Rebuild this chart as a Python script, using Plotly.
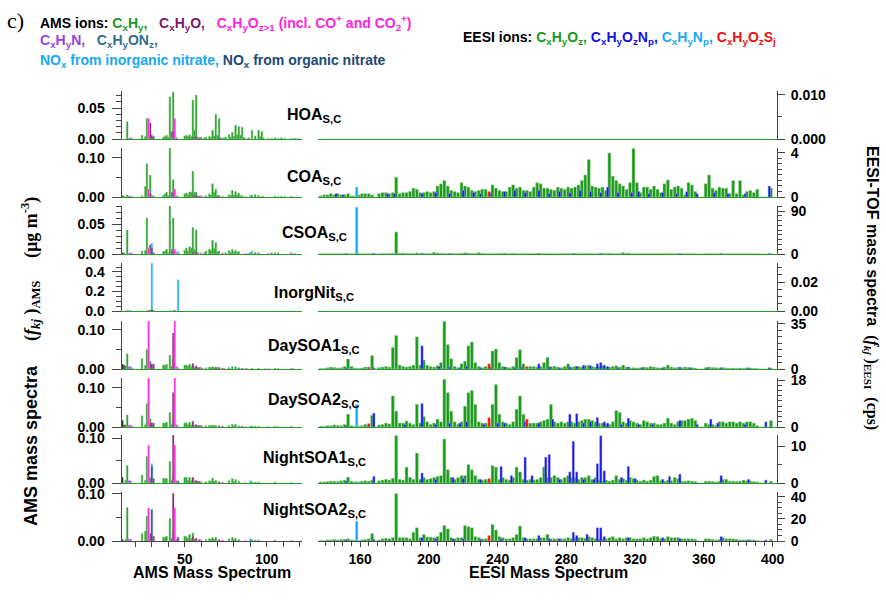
import plotly.graph_objects as go

# ======================= DATA =======================
FACTORS = ["HOA", "COA", "CSOA", "InorgNit", "DaySOA1", "DaySOA2", "NightSOA1", "NightSOA2"]
AMS_TICKS = [50, 100]
EESI_TICKS = [160, 200, 240, 280, 320, 360, 400]
EESI_ODD_MZ = list(range(137, 400, 2))   # m/z of CxHyOz bars (132 values per factor)

# ---- AMS spectra: (m/z, value in ug m-3) per ion family ----
HOA_AMS_CXHY = [(15,.028),(24,.006),(26,.004),(27,.033),(29,.012),(37,.003),(38,.004),(39,.006),(40,.003),(41,.068),(42,.012),(43,.076),
                (50,.005),(51,.006),(52,.004),(53,.007),(54,.004),(55,.063),(56,.014),(57,.071),(58,.003),(62,.002),(63,.003),(65,.004),
                (66,.003),(67,.014),(68,.005),(69,.040),(70,.006),(71,.033),(72,.002),(74,.002),(75,.003),(77,.007),(78,.003),(79,.011),
                (80,.004),(81,.022),(82,.007),(83,.020),(84,.006),(85,.019),(86,.003),(89,.002),(91,.014),(93,.005),(95,.014),(96,.004),
                (97,.012),(98,.002),(103,.001),(105,.002),(107,.001),(109,.002),(111,.001),(115,.001),(117,.001),(119,.001)]
HOA_AMS_CXHYO = [(29,.026),(30,.006),(31,.004),(43,.012),(45,.002),(55,.003),(57,.004),(59,.002),(60,.003),(71,.002)]
HOA_AMS_CXHYOZ = [(28,.033),(44,.033),(45,.001),(60,.001),(73,.001),(87,.001),(101,.001),(117,.001)]
HOA_AMS_CXHYN = [(16,.001),(17,.002),(18,.001),(42,.002),(58,.001)]

COA_AMS_OTHER = [(12,.003)]
COA_AMS_CXHY = [(13,.002),(15,.005),(24,.003),(26,.027),(27,.085),(29,.056),(37,.004),(38,.008),(39,.012),(40,.003),(41,.125),(42,.012),
                (43,.045),(50,.008),(51,.010),(52,.006),(53,.013),(54,.012),(55,.066),(56,.012),(57,.013),(58,.002),(63,.003),(65,.008),
                (66,.005),(67,.034),(68,.012),(69,.020),(70,.004),(71,.004),(77,.006),(78,.004),(79,.017),(80,.005),(81,.014),(82,.006),
                (83,.010),(84,.003),(85,.003),(91,.005),(93,.006),(95,.004),(97,.002),(105,.002),(107,.001),(109,.002),(111,.001),(115,.001)]
COA_AMS_CXHYO = [(29,.010),(30,.003),(31,.002),(43,.012),(45,.002),(55,.004),(57,.006),(58,.002),(59,.002),(69,.002),(71,.002)]
COA_AMS_CXHYOZ = [(28,.020),(44,.020),(45,.003),(46,.002),(60,.003),(61,.001),(73,.002),(87,.001),(98,.001),(115,.001)]
COA_AMS_CXHYN = [(16,.002),(17,.002),(18,.001)]
COA_AMS_NO_INORG = [(30,.001),(46,.002),(90,.004)]

CSOA_AMS_OTHER = [(12,.002)]
CSOA_AMS_CXHY = [(13,.002),(15,.040),(24,.005),(26,.006),(27,.060),(29,.012),(37,.004),(38,.005),(39,.008),(40,.002),(41,.080),(42,.008),
                 (43,.060),(50,.006),(51,.010),(52,.005),(53,.012),(54,.010),(55,.044),(56,.008),(57,.040),(58,.003),(62,.002),(63,.005),
                 (65,.008),(66,.006),(67,.023),(68,.009),(69,.019),(70,.004),(71,.005),(75,.002),(77,.006),(78,.003),(79,.008),(80,.003),
                 (81,.006),(82,.003),(83,.004),(89,.001),(91,.004),(93,.003),(95,.002),(103,.002),(105,.002),(107,.002),(115,.002),(117,.001)]
CSOA_AMS_CXHYO = [(29,.015),(31,.002),(43,.006),(45,.002),(55,.003),(57,.003)]
CSOA_AMS_CXHYOZ = [(28,.010),(44,.008),(45,.002),(60,.002),(73,.002),(87,.001),(101,.001),(115,.001)]
CSOA_AMS_CXHYN = [(16,.001),(17,.002),(18,.001)]
CSOA_AMS_NO_INORG = [(30,.018),(46,.004),(90,.003)]
CSOA_AMS_NO_ORG = [(30,.010)]

INORG_AMS_CXHY = [(15,.002),(27,.002),(41,.002),(43,.002)]
INORG_AMS_CXHYO = [(29,.010),(31,.005)]
INORG_AMS_CXHYOZ = [(28,.008),(44,.010)]
INORG_AMS_CXHYN = [(16,.002),(17,.003)]
INORG_AMS_NO_INORG = [(30,.490),(46,.320)]
INORG_AMS_NO_ORG = [(30,.015)]

DAY1_AMS_OTHER = [(12,.012),(13,.010)]
DAY1_AMS_CXHY = [(14,.008),(15,.039),(24,.027),(26,.009),(27,.050),(29,.020),(37,.010),(38,.010),(39,.012),(41,.035),(42,.006),(43,.025),
                 (50,.010),(51,.010),(52,.008),(53,.012),(54,.006),(55,.010),(56,.004),(57,.006),(63,.003),(65,.005),(66,.004),(67,.006),
                 (68,.004),(69,.005),(70,.003),(77,.004),(79,.006),(81,.006),(83,.003),(91,.002),(95,.002),(105,.002),(107,.001),(115,.001)]
DAY1_AMS_CXHYO = [(29,.013),(30,.013),(31,.012),(43,.092),(45,.004),(55,.014),(57,.008),(58,.003),(59,.004),(60,.003),(69,.003),
                  (71,.004),(73,.002),(83,.002),(85,.002)]
DAY1_AMS_CXHYOZ = [(28,.123),(44,.123),(45,.006),(46,.002),(60,.003),(61,.002),(73,.002),(74,.002),(87,.001),(88,.001),(99,.001),
                   (101,.001),(115,.001),(116,.001)]
DAY1_AMS_CXHYN = [(16,.006),(17,.006),(18,.002)]
DAY1_AMS_NO_INORG = [(46,.002)]

DAY2_AMS_OTHER = [(12,.017),(13,.005)]
DAY2_AMS_CXHY = [(14,.006),(15,.031),(24,.029),(26,.006),(27,.060),(29,.021),(37,.010),(38,.010),(39,.012),(41,.037),(42,.006),(43,.020),
                 (50,.010),(51,.011),(52,.006),(53,.012),(54,.005),(55,.010),(56,.004),(57,.005),(63,.003),(65,.004),(66,.004),(67,.005),
                 (68,.003),(69,.004),(77,.004),(79,.007),(80,.003),(81,.007),(83,.003),(91,.003),(93,.002),(95,.002),(105,.002),(107,.001),(115,.001)]
DAY2_AMS_CXHYO = [(29,.011),(30,.011),(31,.010),(43,.088),(45,.004),(55,.015),(57,.006),(58,.003),(59,.004),(60,.003),(71,.003),(73,.002),(85,.002)]
DAY2_AMS_CXHYOZ = [(28,.126),(44,.126),(45,.006),(46,.002),(60,.003),(61,.002),(73,.002),(87,.001),(101,.001),(115,.001)]
DAY2_AMS_CXHYN = [(16,.005),(17,.005),(18,.002)]
DAY2_AMS_NO_INORG = [(46,.002),(90,.002)]

NIGHT1_AMS_OTHER = [(12,.013)]
NIGHT1_AMS_CXHY = [(14,.006),(15,.039),(24,.018),(26,.006),(27,.059),(29,.012),(37,.010),(38,.010),(39,.010),(41,.048),(42,.006),(43,.020),
                   (50,.012),(51,.013),(52,.006),(53,.013),(54,.005),(55,.012),(56,.004),(57,.006),(63,.003),(65,.005),(66,.004),(67,.011),
                   (68,.004),(69,.006),(77,.005),(79,.010),(80,.003),(81,.008),(83,.004),(91,.003),(93,.002),(95,.002),(105,.002),(115,.001)]
NIGHT1_AMS_CXHYO = [(29,.010),(31,.010),(43,.107),(45,.004),(55,.012),(57,.005),(58,.003),(59,.004),(71,.003)]
NIGHT1_AMS_CXHYOZ = [(28,.084),(44,.084),(45,.005),(60,.003),(73,.002),(87,.001)]
NIGHT1_AMS_CXHYN = [(16,.005),(17,.005)]
NIGHT1_AMS_NO_INORG = [(30,.043),(46,.005),(90,.005)]
NIGHT1_AMS_NO_ORG = [(30,.037),(46,.004)]

NIGHT2_AMS_OTHER = [(12,.003)]
NIGHT2_AMS_CXHY = [(14,.003),(15,.071),(24,.016),(26,.021),(27,.053),(29,.010),(37,.008),(38,.008),(39,.010),(41,.048),(42,.006),(43,.020),
                   (50,.010),(51,.009),(52,.006),(53,.014),(54,.005),(55,.017),(56,.004),(57,.006),(63,.003),(65,.005),(66,.004),(67,.007),
                   (68,.004),(69,.008),(77,.005),(79,.008),(80,.003),(81,.006),(83,.003),(91,.003),(93,.002),(95,.002),(105,.002),(115,.001)]
NIGHT2_AMS_CXHYO = [(29,.016),(31,.010),(43,.101),(45,.004),(55,.010),(57,.005),(59,.003),(71,.003)]
NIGHT2_AMS_CXHYOZ = [(28,.070),(44,.070),(45,.004),(60,.002),(73,.002),(87,.001)]
NIGHT2_AMS_CXHYN = [(16,.004),(17,.004)]
NIGHT2_AMS_NO_INORG = [(90,.005)]
NIGHT2_AMS_NO_ORG = [(30,.067),(46,.008)]

# ---- EESI spectra (cps): CxHyOz at odd m/z 137..399 ----
COA_EESI_CXHYOZ = [0.1, 0.2,
    0.2, 0.3, 0.2, 0.3, 0.2, 0.2, 0.3, 0.1, 0.1, 0.2,
    0.3, 0.3, 0.3, 0.2, 0.0, 0.3, 0.4, 0.4, 0.3, 0.4,
    1.8, 0.3, 0.4, 0.4, 0.5, 0.8, 0.7, 0.4, 0.4, 0.5,
    0.4, 0.5, 1.0, 1.2, 1.5, 1.0, 0.6, 0.5, 0.4, 1.3,
    1.0, 0.9, 0.6, 0.5, 0.6, 0.7, 0.7, 0.3, 1.1, 0.8,
    0.6, 0.5, 0.5, 0.9, 1.1, 0.8, 0.9, 0.6, 0.6, 0.5,
    0.9, 1.3, 1.2, 0.8, 0.8, 0.7, 0.6, 0.9, 0.8, 0.7,
    0.9, 0.8, 0.9, 1.1, 1.5, 2.0, 3.4, 1.0, 0.9, 0.8,
    0.9, 0.6, 4.0, 1.9, 1.5, 1.2, 1.0, 0.7, 1.3, 4.4,
    1.3, 0.4, 0.9, 0.9, 0.7, 1.0, 0.7, 0.4, 1.2, 1.55,
    0.7, 0.9, 1.0, 0.8, 0.2, 1.3, 1.1, 0.5, 0.0, 0.0,
    1.2, 2.0, 0.8, 0.6, 0.9, 0.8, 0.8, 0.3, 1.5, 0.3,
    1.5, 0.2, 0.5, 0.6, 0.4, 0.7, 0.0, 0.0, 0.0, 0.8]
COA_EESI_CXHYOZNP = [(146,.3),(150,.2),(176,.3),(180,.3),(196,.3),(204,.4),(212,.3),(220,.6),(226,.4),(230,.3),(236,.4),(244,.5),
                     (250,.6),(256,.4),(264,.6),(270,.3),(276,.5),(282,.4),(288,.6),(294,.5),(300,.4),(304,.9),(310,.4),(318,.4),
                     (322,.5),(328,.3),(336,.4),(344,.3),(350,.5),(356,.3),(366,.4),(374,.3),(384,.3),(398,1.0)]
COA_EESI_CXHYNP = [(158,.9)]
COA_EESI_CXHYOZSJ = [(235,.5)]

CSOA_EESI_CXHYOZ = [0.3, 0.3,
    0.5, 0.4, 0.5, 0.6, 0.5, 0.8, 0.6, 0.4, 0.3, 0.5,
    0.6, 0.5, 0.7, 0.8, 0.0, 0.6, 0.8, 1.0, 1.2, 1.5,
    46, 1.5, 2.0, 1.2, 1.5, 1.0, 2.5, 1.0, 0.8, 1.0,
    1.2, 3.5, 2.0, 1.5, 1.0, 1.2, 1.0, 0.8, 1.0, 1.5,
    2.5, 1.5, 1.0, 1.2, 3.0, 1.5, 1.0, 0.8, 1.0, 1.0,
    1.2, 1.0, 0.8, 1.0, 1.5, 1.0, 0.8, 1.2, 1.0, 0.8,
    1.0, 1.2, 1.0, 0.8, 1.0, 0.8, 0.6, 1.0, 0.8, 1.2,
    1.0, 0.8, 1.0, 1.2, 0.8, 1.0, 1.2, 0.8, 0.6, 0.8,
    0.8, 1.0, 1.5, 0.8, 1.0, 0.8, 3.0, 1.0, 0.8, 1.0,
    0.8, 0.6, 0.8, 1.0, 0.8, 0.6, 0.8, 0.6, 1.0, 1.2,
    0.8, 0.6, 0.8, 0.6, 0.5, 0.8, 0.6, 0.5, 0.0, 0.0,
    0.6, 0.8, 0.5, 0.6, 0.5, 0.6, 0.5, 0.4, 0.6, 0.5,
    0.6, 0.4, 0.5, 0.4, 0.4, 0.5, 0.0, 0.0, 0.0, 0.4]
CSOA_EESI_CXHYOZNP = [(152,1.0),(168,1.5),(196,1.5),(212,1.0),(222,1.2),(244,1.0),(264,1.2),(284,1.0),(300,1.5),(316,1.0),
                      (346,1.0),(370,0.8),(398,0.8)]
CSOA_EESI_CXHYNP = [(158,98)]

DAY1_EESI_CXHYOZ = [0.5, 0.5,
    1.0, 1.5, 1.2, 0.8, 1.0, 2.0, 7.8, 2.0, 0.8, 0.5,
    0.8, 1.5, 1.0, 10.4, 0.0, 1.2, 1.5, 2.0, 1.5, 16.8,
    26, 3.0, 2.0, 1.5, 2.0, 3.0, 25, 3.0, 7.0, 3.0,
    2.0, 1.5, 2.5, 5.0, 37, 19, 8.0, 2.0, 1.0, 4.0,
    6.0, 18, 21, 5.0, 2.0, 1.0, 2.0, 1.0, 14, 15.5,
    5.0, 2.0, 1.5, 1.0, 2.0, 9.0, 15, 4.0, 1.5, 2.0,
    2.0, 1.5, 2.0, 5.0, 9.0, 2.0, 2.0, 1.5, 1.0, 2.0,
    4.0, 1.5, 2.0, 2.0, 1.5, 2.5, 3.0, 2.0, 1.5, 2.0,
    2.5, 1.5, 1.5, 2.0, 2.5, 1.5, 3.0, 1.5, 1.0, 1.0,
    0.8, 1.0, 1.5, 1.2, 2.0, 1.5, 1.0, 0.8, 1.5, 3.0,
    1.5, 1.0, 1.2, 1.0, 1.5, 1.2, 1.0, 0.8, 0.0, 0.0,
    1.0, 1.5, 1.2, 1.0, 0.8, 1.0, 0.8, 0.6, 0.8, 0.6,
    0.8, 0.6, 1.0, 0.8, 0.6, 0.5, 0.0, 0.0, 0.0, 0.6]
DAY1_EESI_CXHYOZNP = [(144,.5),(152,.8),(168,1.0),(196,18),(206,2.0),(212,1.5),(218,1.0),(222,2.0),(230,1.0),(236,1.5),(244,1.5),
                      (250,1.2),(254,1.5),(264,4.0),(270,1.5),(276,1.0),(282,1.5),(286,2.0),(290,3.0),(294,2.5),(298,4.0),(300,5.0),
                      (302,3.0),(304,2.0),(310,1.0),(316,1.5),(324,1.0),(336,1.0),(346,1.5),(352,1.0),(362,1.0),(370,1.0),(386,.8),(398,1.0)]
DAY1_EESI_CXHYNP = [(158,.8)]
DAY1_EESI_CXHYOZSJ = [(165,1.5),(235,4.0),(257,2.0)]

DAY2_EESI_CXHYOZ = [0.3, 0.3,
    0.5, 0.5, 0.8, 0.6, 0.5, 1.0, 4.9, 0.5, 0.3, 0.3,
    0.5, 1.0, 0.8, 4.5, 0.0, 0.8, 1.0, 1.5, 1.2, 11.9,
    6.1, 1.5, 1.5, 2.3, 1.5, 1.0, 8.7, 1.5, 4.0, 2.0,
    1.0, 1.5, 3.0, 2.0, 18.3, 13.2, 6.1, 2.0, 1.0, 2.0,
    8.0, 13.2, 14.0, 8.7, 2.0, 1.5, 1.5, 1.0, 8.7, 16.3,
    4.9, 2.0, 1.5, 1.0, 2.0, 6.8, 11.9, 4.9, 1.0, 1.5,
    1.5, 1.5, 2.0, 2.5, 3.0, 8.7, 2.0, 1.5, 2.0, 1.5,
    2.0, 2.0, 1.5, 2.0, 2.5, 3.0, 3.0, 2.5, 2.0, 1.5,
    1.5, 1.2, 1.0, 2.0, 6.3, 5.6, 2.0, 1.5, 2.5, 2.0,
    1.5, 1.0, 2.5, 2.0, 1.5, 1.5, 1.0, 1.0, 1.5, 3.4,
    1.5, 1.0, 2.0, 2.5, 2.5, 3.0, 3.4, 2.5, 0.0, 0.0,
    1.5, 1.0, 1.0, 0.5, 2.0, 2.0, 1.5, 2.0, 2.0, 1.5,
    2.0, 1.5, 2.0, 2.0, 1.5, 0.5, 0.0, 0.0, 0.0, 2.5]
DAY2_EESI_CXHYOZNP = [(152,.5),(168,5.3),(186,1.0),(196,9.0),(204,1.0),(212,1.5),(218,1.5),(222,2.0),(232,1.0),(240,1.5),(244,1.5),
                      (256,2.0),(264,1.5),(272,3.0),(282,4.9),(286,5.1),(290,1.5),(294,2.0),(298,3.6),(302,2.0),(304,1.5),(312,1.0),
                      (316,3.4),(322,1.0),(330,1.0),(346,2.5),(356,1.0),(364,3.0),(368,1.5),(384,1.0),(396,2.0)]
DAY2_EESI_CXHYNP = [(158,8.7)]
DAY2_EESI_CXHYOZSJ = [(165,1.3),(235,3.6),(257,3.0)]

NIGHT1_EESI_CXHYOZ = [0.3, 0.3,
    0.4, 0.5, 0.5, 0.4, 0.6, 0.8, 1.6, 0.5, 0.3, 0.3,
    0.5, 0.6, 0.5, 0.8, 0.0, 0.6, 0.8, 1.0, 0.8, 1.3,
    12.8, 1.0, 0.8, 4.3, 1.5, 1.0, 8.1, 1.0, 1.5, 1.0,
    1.2, 1.5, 1.8, 2.0, 11.9, 3.6, 1.5, 1.0, 1.5, 2.0,
    2.0, 5.0, 3.6, 2.0, 1.0, 0.8, 1.0, 0.5, 4.7, 4.3,
    1.0, 1.5, 1.0, 0.8, 1.5, 4.3, 3.0, 1.0, 0.8, 1.0,
    0.8, 1.0, 1.5, 4.3, 1.5, 1.5, 2.0, 1.5, 1.0, 1.5,
    2.0, 1.5, 1.5, 1.0, 1.5, 1.5, 2.0, 1.0, 1.5, 0.8,
    0.5, 0.8, 0.5, 0.8, 2.0, 1.0, 1.2, 0.8, 1.5, 1.2,
    0.8, 0.5, 0.8, 0.5, 0.8, 1.8, 2.0, 0.6, 0.5, 0.8,
    0.6, 1.5, 1.2, 0.5, 0.5, 0.6, 0.5, 0.4, 0.0, 0.0,
    0.5, 0.5, 0.4, 0.3, 0.5, 1.0, 1.0, 0.5, 0.5, 0.4,
    0.5, 0.8, 0.6, 0.5, 0.4, 0.3, 0.0, 0.0, 0.0, 0.5]
NIGHT1_EESI_CXHYOZNP = [(152,.5),(168,1.8),(196,2.7),(204,1.0),(214,1.5),(220,1.2),(230,1.0),(242,4.5),(248,2.0),(256,7.0),(260,2.0),
                        (268,7.0),(270,7.7),(276,1.0),(282,3.0),(284,11.3),(286,3.0),(290,1.0),(296,1.0),(298,5.2),(300,12.8),(302,3.3),
                        (312,1.5),(316,4.5),(320,1.2),(336,1.0),(340,1.8),(346,2.4),(370,2.0),(386,1.0),(396,.8)]
NIGHT1_EESI_CXHYNP = [(158,.4)]
NIGHT1_EESI_CXHYOZSJ = [(235,1.2)]

NIGHT2_EESI_CXHYOZ = [0.5, 0.5,
    1.0, 1.0, 1.5, 1.0, 1.5, 1.5, 2.0, 1.0, 0.8, 0.5,
    1.0, 1.5, 2.0, 6.7, 0.0, 1.0, 2.0, 2.5, 2.0, 3.0,
    43, 3.0, 3.0, 3.0, 2.0, 8.0, 12, 3.0, 6.0, 3.5,
    3.5, 3.0, 4.0, 8.0, 14, 11, 3.0, 2.0, 3.0, 3.0,
    14, 13, 12, 4.0, 3.0, 2.0, 2.0, 2.0, 15, 10,
    4.0, 3.0, 2.0, 2.0, 3.0, 6.0, 13.6, 3.0, 2.0, 2.0,
    2.0, 2.0, 3.0, 3.0, 6.0, 2.0, 2.0, 2.0, 2.0, 2.0,
    3.0, 2.0, 3.0, 3.0, 3.0, 2.5, 4.0, 3.0, 2.0, 2.0,
    2.0, 2.0, 3.0, 4.0, 2.0, 3.0, 2.0, 3.0, 3.0, 2.0,
    2.0, 2.0, 3.0, 2.0, 3.0, 4.3, 4.0, 2.0, 2.0, 4.0,
    3.0, 3.0, 3.0, 2.0, 2.0, 2.0, 2.0, 1.5, 0.0, 0.0,
    2.0, 2.0, 1.5, 1.0, 1.5, 3.0, 2.0, 2.0, 2.0, 1.5,
    1.0, 1.0, 1.0, 1.0, 1.0, 0.5, 0.0, 0.0, 0.0, 1.5]
NIGHT2_EESI_CXHYOZNP = [(152,1.0),(168,1.5),(196,3.0),(204,2.0),(214,2.0),(220,2.0),(230,1.5),(242,2.0),(256,3.0),(264,5.0),(270,2.0),
                        (276,2.0),(284,8.0),(286,5.0),(292,6.0),(298,12),(300,12),(302,4.0),(316,3.0),(336,3.0),(346,2.0),(370,4.0),
                        (386,1.0),(396,1.0)]
NIGHT2_EESI_CXHYNP = [(158,18)]
NIGHT2_EESI_CXHYOZSJ = [(235,5.0)]

# ======================= STYLE / LAYOUT =======================
W, H = 886, 605
SANS = "Liberation Sans, Arial, sans-serif"
SERIF = "Liberation Serif, Times New Roman, serif"

C_CXHY = "#1a991a"; C_CXHYO = "#7a1a6a"; C_CXHYOZ = "#ff22dd"; C_CXHYN = "#9a40e0"
C_CXHYONZ = "#2f6f8f"; C_NOI = "#18a8f2"; C_NOO = "#1b4a78"; C_OTHER = "#222222"
C_EG = "#1a991a"; C_EB = "#1212e6"; C_EC = "#18a8f2"; C_ER = "#ee1111"

AMS = {
    "HOA": [(HOA_AMS_CXHY, C_CXHY), (HOA_AMS_CXHYO, C_CXHYO), (HOA_AMS_CXHYOZ, C_CXHYOZ), (HOA_AMS_CXHYN, C_CXHYN)],
    "COA": [(COA_AMS_CXHY, C_CXHY), (COA_AMS_CXHYO, C_CXHYO), (COA_AMS_CXHYOZ, C_CXHYOZ), (COA_AMS_CXHYN, C_CXHYN),
            (COA_AMS_NO_INORG, C_NOI), (COA_AMS_OTHER, C_OTHER)],
    "CSOA": [(CSOA_AMS_CXHY, C_CXHY), (CSOA_AMS_CXHYO, C_CXHYO), (CSOA_AMS_CXHYOZ, C_CXHYOZ), (CSOA_AMS_CXHYN, C_CXHYN),
             (CSOA_AMS_NO_INORG, C_NOI), (CSOA_AMS_NO_ORG, C_NOO), (CSOA_AMS_OTHER, C_OTHER)],
    "InorgNit": [(INORG_AMS_CXHY, C_CXHY), (INORG_AMS_NO_INORG, C_NOI), (INORG_AMS_CXHYO, C_CXHYO), (INORG_AMS_CXHYOZ, C_CXHYOZ),
                 (INORG_AMS_CXHYN, C_CXHYN), (INORG_AMS_NO_ORG, C_NOO)],
    "DaySOA1": [(DAY1_AMS_CXHY, C_CXHY), (DAY1_AMS_CXHYO, C_CXHYO), (DAY1_AMS_CXHYOZ, C_CXHYOZ), (DAY1_AMS_CXHYN, C_CXHYN),
                (DAY1_AMS_NO_INORG, C_NOI), (DAY1_AMS_OTHER, C_OTHER)],
    "DaySOA2": [(DAY2_AMS_CXHY, C_CXHY), (DAY2_AMS_CXHYO, C_CXHYO), (DAY2_AMS_CXHYOZ, C_CXHYOZ), (DAY2_AMS_CXHYN, C_CXHYN),
                (DAY2_AMS_NO_INORG, C_NOI), (DAY2_AMS_OTHER, C_OTHER)],
    "NightSOA1": [(NIGHT1_AMS_CXHY, C_CXHY), (NIGHT1_AMS_CXHYO, C_CXHYO), (NIGHT1_AMS_CXHYOZ, C_CXHYOZ), (NIGHT1_AMS_CXHYN, C_CXHYN),
                  (NIGHT1_AMS_NO_INORG, C_NOI), (NIGHT1_AMS_NO_ORG, C_NOO), (NIGHT1_AMS_OTHER, C_OTHER)],
    "NightSOA2": [(NIGHT2_AMS_CXHY, C_CXHY), (NIGHT2_AMS_CXHYO, C_CXHYO), (NIGHT2_AMS_CXHYOZ, C_CXHYOZ), (NIGHT2_AMS_CXHYN, C_CXHYN),
                  (NIGHT2_AMS_NO_INORG, C_NOI), (NIGHT2_AMS_NO_ORG, C_NOO), (NIGHT2_AMS_OTHER, C_OTHER)],
}
EESI = {
    "COA": (COA_EESI_CXHYOZ, COA_EESI_CXHYOZNP, COA_EESI_CXHYNP, COA_EESI_CXHYOZSJ),
    "CSOA": (CSOA_EESI_CXHYOZ, CSOA_EESI_CXHYOZNP, CSOA_EESI_CXHYNP, []),
    "DaySOA1": (DAY1_EESI_CXHYOZ, DAY1_EESI_CXHYOZNP, DAY1_EESI_CXHYNP, DAY1_EESI_CXHYOZSJ),
    "DaySOA2": (DAY2_EESI_CXHYOZ, DAY2_EESI_CXHYOZNP, DAY2_EESI_CXHYNP, DAY2_EESI_CXHYOZSJ),
    "NightSOA1": (NIGHT1_EESI_CXHYOZ, NIGHT1_EESI_CXHYOZNP, NIGHT1_EESI_CXHYNP, NIGHT1_EESI_CXHYOZSJ),
    "NightSOA2": (NIGHT2_EESI_CXHYOZ, NIGHT2_EESI_CXHYOZNP, NIGHT2_EESI_CXHYNP, NIGHT2_EESI_CXHYOZSJ),
}

# panel geometry: top px, zero px, left max, right max, left dtick, left minor, left fmt, right dtick, right minor, right fmt, label y
GEO = [
    (91, 139, 0.0775, 0.0109, 0.05, 0.01, ".2f", 0.01, 0.005, ".3f", 115),
    (148, 197, 0.1256, 4.45, 0.10, 0.05, ".2f", 4, 0.5, "d", 177),
    (206, 254, 0.080, 100.5, 0.05, 0.01, ".2f", 90, 10, "d", 233),
    (263, 311, 0.492, 0.0331, 0.2, 0.05, ".1f", 0.02, 0.005, ".2f", 293),
    (321, 369, 0.123, 37.3, 0.10, 0.05, ".2f", 35, 5, "d", 346),
    (378, 427, 0.1256, 18.8, 0.10, 0.05, ".2f", 18, 2, "d", 400),
    (435, 483, 0.1067, 13.0, 0.10, 0.05, ".2f", 10, 5, "d", 458),
    (492, 541, 0.104, 44.5, 0.10, 0.05, ".2f", 20, 5, "d", 510),
]
AMS_DOM = [121.5 / W, 302 / W]
EESI_DOM = [318 / W, 777 / W]
AMS_RANGE = [11.5, 121.5]
EESI_RANGE = [135.5, 402.5]
AX = "#444444"
BASE = "#2a9a2a"
TF = dict(family=SANS, size=14, color="black", weight="bold")


def akey(p, n):
    return p if n == 1 else f"{p}{n}"


def lighten(hexc, f=0.45):
    h = hexc.lstrip("#")
    r, g, b = int(h[0:2], 16), int(h[2:4], 16), int(h[4:6], 16)
    r, g, b = [int(c + (255 - c) * f) for c in (r, g, b)]
    return f"rgb({r},{g},{b})"


fig = go.Figure()
layout = dict(width=W, height=H, autosize=False,
              margin=dict(l=0, r=0, t=0, b=0, autoexpand=False),
              paper_bgcolor="white", plot_bgcolor="rgba(0,0,0,0)",
              barmode="overlay", showlegend=False,
              font=dict(family=SANS, size=14, color="black"))

annotations = []
for i, name in enumerate(FACTORS):
    top, zero, lmax, rmax, ldt, lmin, lfmt, rdt, rmin, rfmt, laby = GEO[i]
    ia, ie = 2 * i + 1, 2 * i + 2
    xa, ya, xe, ye = akey("x", ia), akey("y", ia), akey("x", ie), akey("y", ie)
    ydom = [1 - zero / H, 1 - top / H]
    bottom = (i == len(FACTORS) - 1)

    # AMS bars
    for pairs, col in AMS[name]:
        if not pairs:
            continue
        fig.add_trace(go.Bar(x=[p[0] for p in pairs], y=[p[1] for p in pairs], width=1.0,
                             marker=dict(color=col, line=dict(width=0.5, color=lighten(col))),
                             xaxis=xa, yaxis=ya, hoverinfo="skip"))
    # EESI bars
    if name in EESI:
        g, b, c, r = EESI[name]
        fig.add_trace(go.Bar(x=EESI_ODD_MZ, y=g, width=1.7,
                             marker=dict(color=C_EG, line=dict(width=0.5, color=lighten(C_EG, 0.6))),
                             xaxis=xe, yaxis=ye, hoverinfo="skip"))
        for pairs, col, wd in ((b, C_EB, 1.3), (r, C_ER, 1.5), (c, C_EC, 1.5)):
            if pairs:
                fig.add_trace(go.Bar(x=[p[0] for p in pairs], y=[p[1] for p in pairs], width=wd,
                                     marker=dict(color=col, line=dict(width=0.5, color=lighten(col, 0.6))),
                                     xaxis=xe, yaxis=ye, hoverinfo="skip"))
    else:
        # no EESI signal for this factor: keep the (empty) EESI subplot so its axis is drawn
        fig.add_trace(go.Scatter(x=[None], y=[None], mode="lines", xaxis=xe, yaxis=ye, hoverinfo="skip"))

    xcommon = dict(showgrid=False, zeroline=False, fixedrange=True)
    if bottom:
        layout[akey("xaxis", ia)] = dict(domain=AMS_DOM, range=AMS_RANGE, anchor=ya, showline=True, linecolor=AX,
                                         linewidth=1, ticks="outside", ticklen=5, tickcolor=AX, tickmode="array",
                                         tickvals=AMS_TICKS, tickfont=TF,
                                         minor=dict(ticks="outside", ticklen=5, tickcolor=AX, tickmode="linear", tick0=0, dtick=10),
                                         **xcommon)
        layout[akey("xaxis", ie)] = dict(domain=EESI_DOM, range=EESI_RANGE, anchor=ye, showline=True, linecolor=AX,
                                         linewidth=1, ticks="outside", ticklen=5, tickcolor=AX, tickmode="array",
                                         tickvals=EESI_TICKS, tickfont=TF,
                                         minor=dict(ticks="outside", ticklen=4, tickcolor=AX, tickmode="linear", tick0=0, dtick=5),
                                         **xcommon)
    else:
        for k, dom, rng, anc in ((ia, AMS_DOM, AMS_RANGE, ya), (ie, EESI_DOM, EESI_RANGE, ye)):
            layout[akey("xaxis", k)] = dict(domain=dom, range=rng, anchor=anc, showline=True, linecolor=BASE,
                                            linewidth=1, ticks="", showticklabels=False, **xcommon)

    layout[akey("yaxis", ia)] = dict(domain=ydom, range=[0, lmax], anchor=xa, side="left", showline=True, linecolor=AX,
                                     linewidth=1, ticks="outside", ticklen=9, tickcolor=AX, tickmode="linear", tick0=0,
                                     dtick=ldt, tickformat=lfmt, tickfont=TF, ticklabelstandoff=4,
                                     minor=dict(ticks="outside", ticklen=5, tickcolor=AX, tickmode="linear", tick0=0, dtick=lmin),
                                     showgrid=False, zeroline=False, fixedrange=True)
    layout[akey("yaxis", ie)] = dict(domain=ydom, range=[0, rmax], anchor=xe, side="right", showline=True, linecolor=AX,
                                     linewidth=1, ticks="outside", ticklen=7, tickcolor=AX, tickmode="linear", tick0=0,
                                     dtick=rdt, tickformat=rfmt, tickfont=TF, ticklabelstandoff=3,
                                     minor=dict(ticks="outside", ticklen=4, tickcolor=AX, tickmode="linear", tick0=0, dtick=rmin),
                                     showgrid=False, zeroline=False, fixedrange=True)

    annotations.append(dict(text=f"<b>{name}<sub>S,C</sub></b>", x=314 / W, y=1 - laby / H, xref="paper", yref="paper",
                            xanchor="center", yanchor="middle", showarrow=False,
                            font=dict(family=SANS, size=16, color="black")))


def span(col, txt):
    return f"<span style='color:{col}'>{txt}</span>"


CXHY = "C<sub>x</sub>H<sub>y</sub>"
SP = "   "
header = [
    ("c)", 5, 20, dict(family=SERIF, size=22, color="black")),
    ("<b>AMS ions: " + span(C_CXHY, CXHY + ",") + SP + span(C_CXHYO, CXHY + "O,") + SP +
     span(C_CXHYOZ, CXHY + "O<sub>z&gt;1</sub> (incl. CO<sup>+</sup> and CO<sub>2</sub><sup>+</sup>)") + "</b>",
     38, 23, dict(family=SANS, size=14, color="black")),
    ("<b>" + span(C_CXHYN, CXHY + "N,") + SP + span(C_CXHYONZ, CXHY + "ON<sub>z</sub>,") + "</b>",
     38, 41, dict(family=SANS, size=14, color="black")),
    ("<b>" + span(C_NOI, "NO<sub>x</sub> from inorganic nitrate,") + " " + span(C_NOO, "NO<sub>x</sub> from organic nitrate") + "</b>",
     38, 61, dict(family=SANS, size=14, color="black")),
    ("<b>EESI ions: " + span(C_EG, CXHY + "O<sub>z</sub>,") + " " + span(C_EB, CXHY + "O<sub>z</sub>N<sub>p</sub>,") + " " +
     span(C_EC, CXHY + "N<sub>p</sub>,") + " " + span(C_ER, CXHY + "O<sub>z</sub>S<sub>j</sub>") + "</b>",
     461, 38, dict(family=SANS, size=14, color="black")),
]
for txt, xp, yp, fnt in header:
    annotations.append(dict(text=txt, x=xp / W, y=1 - yp / H, xref="paper", yref="paper", xanchor="left",
                            yanchor="middle", showarrow=False, font=fnt, align="left"))

# axis titles
annotations.append(dict(
    text="<b>AMS mass spectra</b>     <span style='font-family:Liberation Serif'><b>(<i>f<sub>kj</sub></i> )<sub>AMS</sub>     (µg m<sup>-3</sup>)</b></span>",
    x=30 / W, y=1 - 362 / H, xref="paper", yref="paper", textangle=-90, showarrow=False,
    xanchor="center", yanchor="middle", font=dict(family=SANS, size=18, color="black")))
annotations.append(dict(
    text="<b>EESI-TOF mass spectra</b>  <span style='font-family:Liberation Serif'><b>(<i>f<sub>kj</sub></i> )<sub>EESI</sub>  (cps)</b></span>",
    x=872 / W, y=1 - 288 / H, xref="paper", yref="paper", textangle=90, showarrow=False,
    xanchor="center", yanchor="middle", font=dict(family=SANS, size=16, color="black")))
annotations.append(dict(text="<b>AMS Mass Spectrum</b>", x=212 / W, y=1 - 572 / H, xref="paper", yref="paper",
                        showarrow=False, xanchor="center", yanchor="middle", font=dict(family=SANS, size=16, color="black")))
annotations.append(dict(text="<b>EESI Mass Spectrum</b>", x=548 / W, y=1 - 572 / H, xref="paper", yref="paper",
                        showarrow=False, xanchor="center", yanchor="middle", font=dict(family=SANS, size=16, color="black")))

layout["annotations"] = annotations
fig.update_layout(**layout)
fig.write_html("out.html")
